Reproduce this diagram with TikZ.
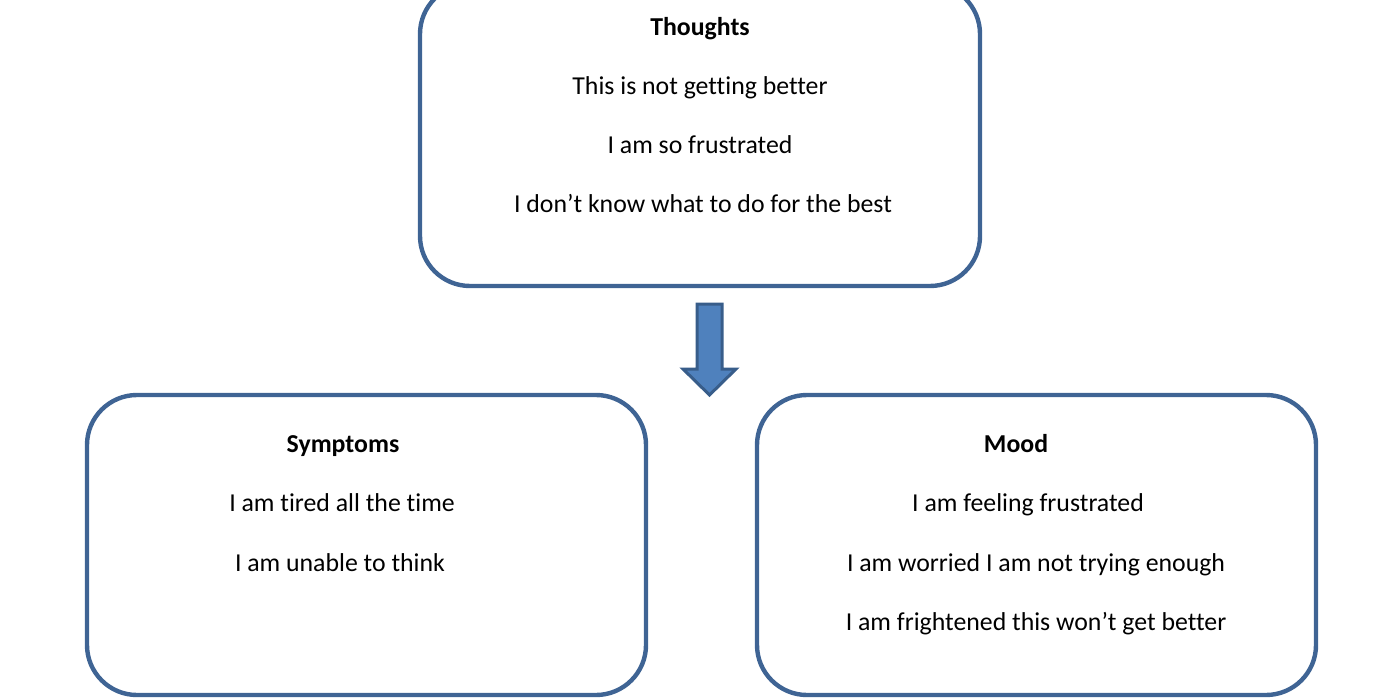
\documentclass[tikz,border=0pt]{standalone}
\usepackage{fontspec}
\setmainfont[Ligatures=NoCommon]{Carlito}
\usepackage{xcolor}
\usepackage{tikz}
\usetikzlibrary{positioning}

\definecolor{boxblue}{HTML}{3F6494}
\definecolor{arrowfill}{HTML}{4F81BD}
\definecolor{arrowline}{HTML}{385D8A}

\begin{document}
\begin{tikzpicture}[x=0.5pt,y=-0.5pt,font=\fontsize{12.9}{14}\selectfont,
    box/.style={draw=boxblue,line width=2.2pt,rounded corners=25pt,inner sep=0pt},
    head/.style={font=\fontsize{12.9}{14}\selectfont\bfseries}]
  % canvas in px, 1px = 0.5pt, y down
  \useasboundingbox (0,0) rectangle (1400,700);
  \node[box,minimum width=280pt,minimum height=151pt] (thoughts) at (700,135) {};
  \node[box,minimum width=279.5pt,minimum height=150pt] (symptoms) at (366.5,545) {};
  \node[box,minimum width=279.5pt,minimum height=150pt] (mood) at (1036.5,545) {};
  \def\tline#1#2#3#4{\node[anchor=base] (#1) at (#2,#3) {#4};}  % name, x, baseline, text
  % thoughts
  \node[head,anchor=base] (thoughtsT) at (700,36) {Thoughts};
  \tline{th1}{700}{95}{This is not getting better}
  \tline{th2}{700}{154}{I am so frustrated}
  \tline{th3}{703}{213}{I don’t know what to do for the best}
  % symptoms
  \node[head,anchor=base] (symptomsT) at (343,452) {Symptoms};
  \tline{sy1}{342}{511}{I am tired all the time}
  \tline{sy2}{340}{571}{I am unable to think}
  % mood
  \node[head,anchor=base] (moodT) at (1016,452) {Mood};
  \tline{mo1}{1028}{511}{I am feeling frustrated}
  \tline{mo2}{1036}{571}{I am worried I am not trying enough}
  \tline{mo3}{1036}{630}{I am frightened this won’t get better}
  % block arrow between the rows
  \draw[fill=arrowfill,draw=arrowline,line width=1.5pt,line join=miter]
    (697,304) -- (722,304) -- (722,369) -- (736,369) -- (709.5,395)
    -- (683,369) -- (697,369) -- cycle;
\end{tikzpicture}
\end{document}
